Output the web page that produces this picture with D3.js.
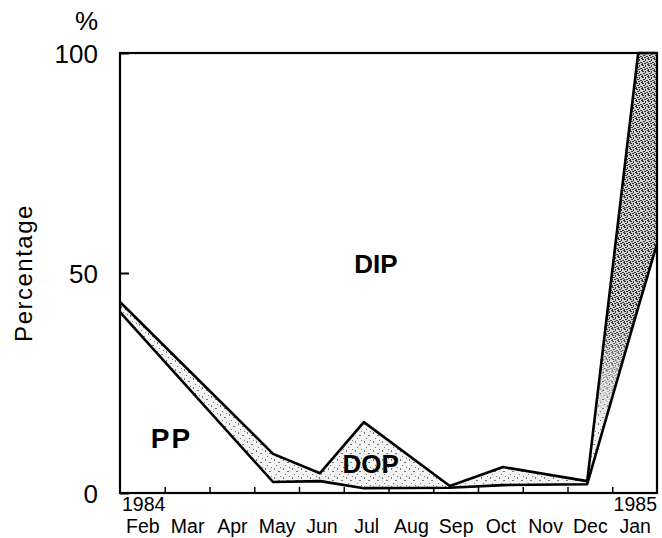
<!DOCTYPE html>
<html>
<head>
<meta charset="utf-8">
<script src="https://cdn.jsdelivr.net/npm/d3@7"></script>
<style>
  body { margin: 0; background: #fff; }
  text { font-family: "Liberation Sans", Arial, Helvetica, sans-serif; fill: #000; }
</style>
</head>
<body>
<script>
// sampling times, in months counted from 1 Feb 1984
const sampleMonth = [0, 3.42, 4.47, 5.45, 7.37, 8.56, 10.44, 11.58, 12];
const pp = [41.1, 2.5, 2.7, 1.1, 1.2, 1.8, 2.0, 42.2, 56.6];
const dop = [2.3, 6.4, 1.8, 15.0, 0.4, 4.1, 0.7, 57.8, 43.4];
const months = ["Feb", "Mar", "Apr", "May", "Jun", "Jul", "Aug", "Sep", "Oct", "Nov", "Dec", "Jan"];
const yTicks = [0, 50, 100];

const W = 662, H = 538;
const margin = {top: 53, right: 5, bottom: 45, left: 120};
const width = W - margin.left - margin.right,
  height = H - margin.top - margin.bottom;

let rows = sampleMonth.map(function (m, i) {
  return {t: m, pp: pp[i], dop: dop[i], dip: 100 - pp[i] - dop[i]};
});

let x = d3.scaleLinear().domain([0, 12]).range([0, width]);
let y = d3.scaleLinear().domain([0, 100]).range([height, 0]);

let svg = d3.select("body").append("svg")
  .attr("width", W)
  .attr("height", H);

// stipple fills
let defs = svg.append("defs");
let light = defs.append("pattern").attr("id", "stipLight")
  .attr("width", 9).attr("height", 9).attr("patternUnits", "userSpaceOnUse");
light.append("rect").attr("width", 9).attr("height", 9).attr("fill", "#f3f3f3");
[[1, 1, 1, 2], [5, 4, 2, 1], [3, 7, 1, 1], [7, 0, 1, 1]].forEach(function (r) {
  light.append("rect").attr("x", r[0]).attr("y", r[1]).attr("width", r[2]).attr("height", r[3]).attr("fill", "#777");
});
let dark = defs.append("pattern").attr("id", "stipDark")
  .attr("width", 6).attr("height", 6).attr("patternUnits", "userSpaceOnUse");
dark.append("rect").attr("width", 6).attr("height", 6).attr("fill", "#d0d0d0");
[[0, 0, 2, 1], [3, 0, 1, 2], [1, 2, 2, 1], [4, 3, 2, 1], [0, 4, 1, 2], [2, 4, 2, 1], [5, 5, 1, 1]].forEach(function (r) {
  dark.append("rect").attr("x", r[0]).attr("y", r[1]).attr("width", r[2]).attr("height", r[3]).attr("fill", "#333");
});
let grad = defs.append("linearGradient").attr("id", "fadeDown")
  .attr("gradientUnits", "userSpaceOnUse")
  .attr("x1", 0).attr("y1", 0).attr("x2", 0).attr("y2", height);
grad.append("stop").attr("offset", 0.6).attr("stop-color", "#fff");
grad.append("stop").attr("offset", 0.85).attr("stop-color", "#000");
let mask = defs.append("mask").attr("id", "spikeMask")
  .attr("maskUnits", "userSpaceOnUse")
  .attr("x", 0).attr("y", 0).attr("width", width).attr("height", height);
mask.append("rect").attr("x", x(10.5)).attr("y", 0)
  .attr("width", width - x(10.5)).attr("height", height).attr("fill", "url(#fadeDown)");

let g = svg.append("g")
  .attr("transform", "translate(" + margin.left + "," + margin.top + ")");

let series = d3.stack().keys(["pp", "dop", "dip"])(rows);
let area = d3.area()
  .x(function (d) { return x(d.data.t); })
  .y0(function (d) { return y(d[0]); })
  .y1(function (d) { return y(d[1]); });

g.append("path").datum(series[0]).attr("d", area).attr("fill", "#fff");
g.append("path").datum(series[1]).attr("d", area).attr("fill", "url(#stipLight)");
g.append("path").datum(series[1]).attr("d", area).attr("fill", "url(#stipDark)")
  .attr("mask", "url(#spikeMask)");
g.append("path").datum(series[2]).attr("d", area).attr("fill", "#fff");

let topLine = d3.line()
  .x(function (d) { return x(d.data.t); })
  .y(function (d) { return y(d[1]); });
[series[0], series[1]].forEach(function (s) {
  g.append("path").datum(s).attr("d", topLine)
    .attr("fill", "none").attr("stroke", "#000")
    .attr("stroke-width", 2.6).attr("stroke-linejoin", "round");
});

// axes
let yAxis = g.append("g")
  .call(d3.axisLeft(y).tickValues(yTicks).tickSize(-9).tickPadding(22));
yAxis.select(".domain").remove();
yAxis.selectAll("line").attr("stroke-width", 2);
yAxis.selectAll("text").style("font-size", "26px").attr("dy", "0.36em")
  .attr("font-family", null);

let xTicks = g.append("g")
  .attr("transform", "translate(0," + height + ")")
  .call(d3.axisBottom(x).tickValues(d3.range(1, 12)).tickSize(-6).tickFormat(""));
xTicks.select(".domain").remove();
xTicks.selectAll("line").attr("stroke-width", 1.5);

let xLabels = g.append("g")
  .attr("transform", "translate(0," + height + ")")
  .call(d3.axisBottom(x).tickValues(months.map(function (m, i) { return i + 0.5; }))
    .tickSize(0).tickPadding(26)
    .tickFormat(function (d) { return months[Math.floor(d)]; }));
xLabels.select(".domain").remove();
xLabels.selectAll("text").style("font-size", "19.5px").attr("font-family", null);

// frame
g.append("rect")
  .attr("width", width).attr("height", height)
  .attr("fill", "none").attr("stroke", "#000").attr("stroke-width", 2.2);

// texts
g.append("text").attr("x", 2).attr("y", height + 17.5)
  .style("font-size", "19.5px").text("1984");
g.append("text").attr("x", width).attr("y", height + 17.5)
  .attr("text-anchor", "end").style("font-size", "19.5px").text("1985");
svg.append("text").attr("x", 98).attr("y", 30)
  .attr("text-anchor", "end").style("font-size", "26px").text("%");
svg.append("text")
  .attr("transform", "translate(32," + (margin.top + y(50)) + ") rotate(-90)")
  .attr("text-anchor", "middle").style("font-size", "24px")
  .style("letter-spacing", "1.5px").text("Percentage");

g.append("text").attr("x", x(5.72)).attr("y", y(50))
  .attr("text-anchor", "middle").style("font-size", "26px").style("font-weight", "bold").text("DIP");
g.append("text").attr("x", x(5.6)).attr("y", y(4.6))
  .attr("text-anchor", "middle").style("font-size", "26px").style("font-weight", "bold").text("DOP");
g.append("text").attr("x", x(1.15)).attr("y", y(10.3))
  .attr("text-anchor", "middle").style("font-size", "28px").style("font-weight", "bold")
  .style("letter-spacing", "2px").text("PP");
</script>
</body>
</html>
